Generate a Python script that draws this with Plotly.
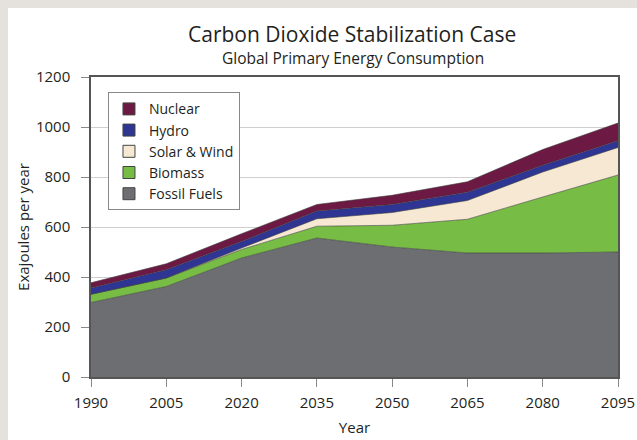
import plotly.graph_objects as go

years = [1990, 2005, 2020, 2035, 2050, 2065, 2080, 2095]
fossil = [298, 362, 476, 556, 520, 496, 496, 500]
biomass = [33, 34, 34, 47, 87, 135, 224, 308]
solar_wind = [0, 0, 6, 30, 51, 75, 100, 110]
hydro = [25, 33, 26, 31, 32, 33, 27, 27]
nuclear = [21, 24, 31, 26, 37, 42, 63, 71]

series = [
    ("Fossil Fuels", fossil, "#6d6e72"),
    ("Biomass", biomass, "#77bd45"),
    ("Solar & Wind", solar_wind, "#f6e8d2"),
    ("Hydro", hydro, "#2e3593"),
    ("Nuclear", nuclear, "#6c1a43"),
]

FONT = "Open Sans"
TXT = "#231f20"
fig = go.Figure()

for name, vals, col in series:
    fig.add_trace(go.Scatter(
        x=years, y=vals, name=name, stackgroup="one", mode="lines",
        line=dict(color="#3a3a3a", width=0.6), fillcolor=col,
        showlegend=False, hoverinfo="x+y+name",
    ))

# legend swatches
for name, vals, col in series:
    fig.add_trace(go.Bar(
        x=[None], y=[None], name=name,
        marker=dict(color=col, line=dict(color="#444", width=1)),
        showlegend=True,
    ))

# page body keeps an 8px margin at left/top; figure coordinates = screen - 8
OFF = 8
W, H = 640, 440
L, R, T, B = 83, W - 610.5, 68.7, H - 368.7
pw, ph = W - L - R, H - T - B

def px_x(p):  # screen px -> paper x
    return (p - OFF - L) / pw

def px_y(p):  # screen px -> paper y
    return (H - B - (p - OFF)) / ph

fig.add_annotation(text="Carbon Dioxide Stabilization Case", xref="paper", yref="paper",
                   x=px_x(352), y=px_y(34), xanchor="center", yanchor="middle",
                   showarrow=False, font=dict(family=FONT, size=21, color=TXT))
fig.add_annotation(text="Global Primary Energy Consumption", xref="paper", yref="paper",
                   x=px_x(353), y=px_y(58), xanchor="center", yanchor="middle",
                   showarrow=False, font=dict(family=FONT, size=15.5, color=TXT))

fig.update_layout(
    width=W, height=H,
    margin=dict(l=L, r=R, t=T, b=B, autoexpand=False),
    paper_bgcolor="white", plot_bgcolor="white",
    font=dict(family=FONT, size=15, color=TXT),
    barmode="overlay",
    legend=dict(x=px_x(108), y=px_y(92), xanchor="left", yanchor="top",
                bgcolor="white", bordercolor="#888", borderwidth=1,
                font=dict(family=FONT, size=14, color=TXT),
                traceorder="reversed", itemwidth=30, tracegroupgap=0),
    xaxis=dict(range=[1990, 2095], tickvals=years, ticktext=[str(y) for y in years],
               ticks="outside", ticklen=8, tickcolor="#888", tickwidth=1,
               showline=True, linecolor="#555", linewidth=1.5, mirror=True,
               showgrid=False, zeroline=False, ticklabelstandoff=3, automargin=False,
               title=dict(text="Year", font=dict(family=FONT, size=15), standoff=12),
               tickfont=dict(family=FONT, size=15)),
    yaxis=dict(range=[0, 1200], tickvals=[0, 200, 400, 600, 800, 1000, 1200],
               ticks="outside", ticklen=8, tickcolor="#888", tickwidth=1,
               showline=True, linecolor="#555", linewidth=1.5, mirror=True,
               showgrid=True, gridcolor="#cfcfcf", gridwidth=1, zeroline=False,
               ticklabelstandoff=8, automargin=False,
               title=dict(text="Exajoules per year", font=dict(family=FONT, size=15), standoff=3),
               tickfont=dict(family=FONT, size=15)),
)

fig.write_html(
    "out.html",
    post_script=(
        "document.body.style.background='#e5e1dc';"
        "document.body.style.margin='8px 0 0 8px';"
        "document.body.style.overflow='hidden';"
        "document.documentElement.style.overflow='hidden';"
    ),
)
